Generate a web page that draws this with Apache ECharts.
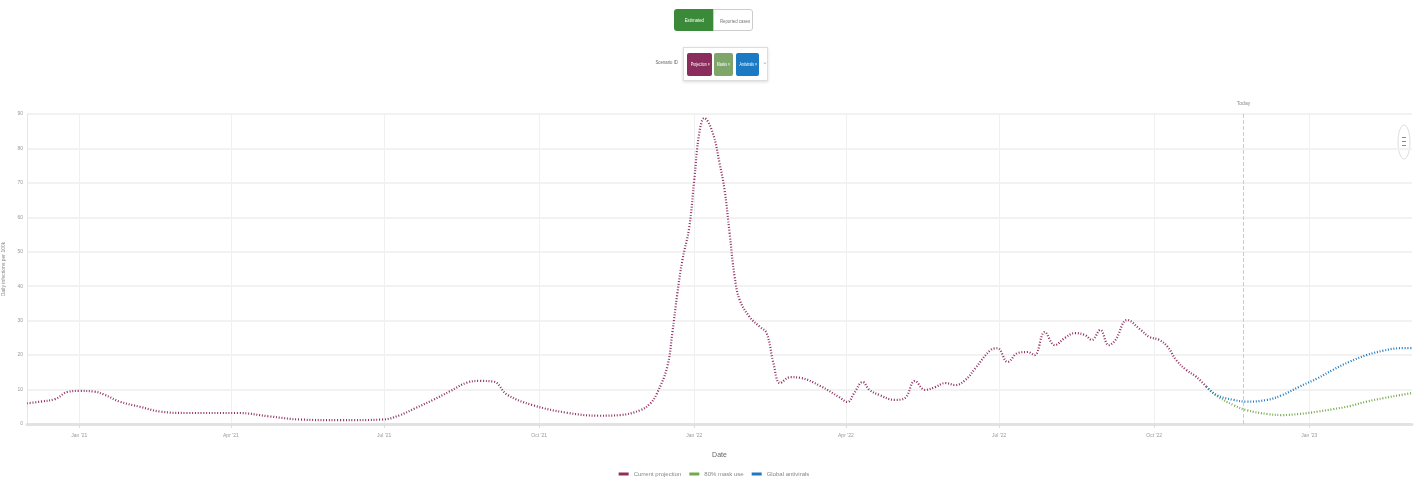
<!DOCTYPE html>
<html>
<head>
<meta charset="utf-8">
<script src="https://cdn.jsdelivr.net/npm/echarts@6/dist/echarts.min.js"></script>
<style>
  html, body { margin: 0; padding: 0; background: #fff; }
  #wrap { position: relative; width: 1428px; height: 489px; overflow: hidden; font-family: 'Liberation Sans', 'DejaVu Sans', sans-serif; }
  #chart { position: absolute; left: 0; top: 0; width: 1428px; height: 489px; }
  .btn { position: absolute; top: 9px; height: 22px; line-height: 22px; font-size: 6px; text-align: center; box-sizing: border-box; white-space: nowrap; overflow: hidden; }
  .btn span, .tag span, #scLabel span { display: inline-block; transform: scaleX(0.72); }
  #b1 { left: 674px; width: 40px; background: #3b8a3a; color: #fff; border-radius: 3px 0 0 3px; }
  #b2 { left: 713px; width: 40px; background: #fff; color: #777; border: 1px solid #ccc; border-radius: 0 3px 3px 0; }
  #scLabel { position: absolute; left: 640px; width: 42px; top: 59px; font-size: 6px; color: #666; text-align: right; white-space: nowrap; }
  #scBox { position: absolute; left: 683px; top: 47px; width: 85px; height: 34px; border: 1px solid #ddd; box-shadow: 0 1px 3px rgba(0,0,0,0.15); box-sizing: border-box; background: #fff; }
  .tag { position: absolute; top: 5px; height: 23px; line-height: 23px; font-size: 5px; color: #fff; border-radius: 2px; text-align: center; white-space: nowrap; overflow: hidden; }
  #t1 { left: 3px; width: 25px; background: #8a2c5c; }
  #t2 { left: 30px; width: 19px; background: #7ea56a; }
  #t3 { left: 52px; width: 23px; background: #1b7ac3; }
  #chev { position: absolute; left: 78px; top: 10px; font-size: 7px; color: #aaa; }
</style>
</head>
<body>
<div id="wrap">
  <div id="chart"></div>
  <div class="btn" id="b1"><span>Estimated</span></div>
  <div class="btn" id="b2"><span>Reported cases</span></div>
  <div id="scLabel"><span>Scenario ID</span></div>
  <div id="scBox">
    <div class="tag" id="t1"><span>Projection ×</span></div>
    <div class="tag" id="t2"><span>Masks ×</span></div>
    <div class="tag" id="t3"><span>Antivirals ×</span></div>
    <div id="chev">⌄</div>
  </div>
</div>
<script>
// ---- data ----
const seriesNames = ['Current projection', '80% mask use', 'Global antivirals'];
const projDates = ['2020-12-01','2020-12-09','2020-12-18','2020-12-25','2021-01-01','2021-01-10','2021-01-16','2021-01-25','2021-02-06','2021-02-18','2021-03-06','2021-04-05','2021-04-24','2021-05-12','2021-06-05','2021-06-30','2021-07-10','2021-07-19','2021-07-30','2021-08-09','2021-08-19','2021-08-27','2021-09-04','2021-09-12','2021-09-27','2021-10-17','2021-11-06','2021-11-18','2021-11-30','2021-12-06','2021-12-10','2021-12-16','2021-12-19','2021-12-22','2021-12-25','2021-12-29','2022-01-01','2022-01-04','2022-01-07','2022-01-12','2022-01-16','2022-01-19','2022-01-22','2022-01-25','2022-01-28','2022-02-03','2022-02-09','2022-02-13','2022-02-17','2022-02-21','2022-02-27','2022-03-05','2022-03-17','2022-03-28','2022-04-02','2022-04-06','2022-04-11','2022-04-15','2022-04-21','2022-04-30','2022-05-06','2022-05-12','2022-05-18','2022-05-24','2022-05-30','2022-06-05','2022-06-11','2022-06-17','2022-06-26','2022-06-30','2022-07-06','2022-07-12','2022-07-18','2022-07-22','2022-07-28','2022-08-03','2022-08-09','2022-08-15','2022-08-21','2022-08-25','2022-08-30','2022-09-04','2022-09-08','2022-09-15','2022-09-23','2022-09-28','2022-10-04','2022-10-09','2022-10-14','2022-10-20','2022-10-26','2022-11-01'];
const projValues = [6.0,6.5,7.3,9.3,9.6,9.4,8.5,6.5,5.0,3.6,3.2,3.2,2.2,1.3,1.1,1.3,2.5,4.5,7.0,9.5,12.0,12.5,12.3,8.5,5.5,3.3,2.4,2.6,4.0,6.0,9.0,16.6,26.4,38.0,47.6,57.0,70.8,84.5,88.8,84.5,75.8,68.0,55.4,42.7,36.0,31.0,28.2,26.4,17.7,11.9,13.6,13.4,11.0,7.8,6.4,9.0,12.2,9.9,8.4,7.0,7.5,12.5,9.9,10.7,11.9,11.3,12.8,16.3,21.5,22.0,18.0,20.6,20.9,20.0,26.7,22.9,25.0,26.4,25.8,24.4,27.3,22.9,24.4,30.2,27.3,25.3,24.4,22.4,18.6,15.7,13.7,10.8];
const scenDates = ['2022-11-01','2022-11-07','2022-11-17','2022-11-25','2022-12-07','2022-12-16','2022-12-26','2023-01-06','2023-01-15','2023-01-25','2023-02-04','2023-02-14','2023-02-24','2023-03-03'];
const maskValues = [10.8,8.2,5.5,4.0,2.9,2.6,2.9,3.6,4.3,5.2,6.5,7.5,8.4,9.0];
const antiviralValues = [10.8,8.4,7.0,6.5,7.0,8.4,10.8,13.3,15.7,18.1,20.0,21.3,22.0,22.0];
const tickDates = ['2021-01-01','2021-04-01','2021-07-01','2021-10-01','2022-01-01','2022-04-01','2022-07-01','2022-10-01','2023-01-01'];
const xMin = '2020-12-01';
const xMax = '2023-03-03';
const todayDate = '2022-11-23';
const yMin = 0, yMax = 90, yStep = 10;
const monthNames = ['Jan','Feb','Mar','Apr','May','Jun','Jul','Aug','Sep','Oct','Nov','Dec'];

function ts(s) { const p = s.split('-').map(Number); return new Date(p[0], p[1] - 1, p[2]).getTime(); }
const pair = (ds, vs) => ds.map((d, i) => [ts(d), vs[i]]);
const tickTs = tickDates.map(ts);
const colors = ['#8f2f60', '#72a84e', '#1f78c0'];
const font = "'Liberation Sans', 'DejaVu Sans', sans-serif";

const chart = echarts.init(document.getElementById('chart'), null, { renderer: 'canvas' });
const lineStyle = (c) => ({ color: c, width: 2.2, type: [1, 1.8] });
chart.setOption({
  animation: false,
  textStyle: { fontFamily: font },
  color: colors,
  grid: { left: 27, right: 16, top: 114, bottom: 65, containLabel: false, outerBoundsMode: 'none' },
  legend: {
    bottom: 7, left: 'center', itemWidth: 10, itemHeight: 3, itemGap: 8,
    icon: 'rect',
    textStyle: { fontSize: 6, color: '#888', fontFamily: font },
    data: seriesNames
  },
  xAxis: {
    type: 'value', min: ts(xMin), max: ts(xMax),
    name: 'Date', nameLocation: 'middle', nameGap: 28,
    nameTextStyle: { fontSize: 7, color: '#666' },
    axisLine: { lineStyle: { color: '#e2e2e2', width: 3 } },
    axisTick: { show: true, customValues: tickTs, length: 4, lineStyle: { color: '#ddd' } },
    axisLabel: {
      customValues: tickTs, fontSize: 5, color: '#999', margin: 9,
      formatter: (v) => { const d = new Date(v); return monthNames[d.getMonth()] + " '" + String(d.getFullYear()).slice(2); }
    },
    splitLine: { show: true, lineStyle: { color: '#f0f0f0', width: 1 } }
  },
  yAxis: {
    type: 'value', min: yMin, max: yMax, interval: yStep,
    name: 'Daily infections per 100k', nameLocation: 'middle', nameGap: 8,
    nameTextStyle: { fontSize: 5, color: '#888' },
    axisLine: { show: true, lineStyle: { color: '#e6e6e6', width: 1 } },
    axisTick: { show: false },
    axisLabel: { fontSize: 5, color: '#999', margin: 4 },
    splitLine: { lineStyle: { color: '#f2f2f2', width: 2 } }
  },
  graphic: [
    { type: 'ellipse', shape: { cx: 1404, cy: 142, rx: 6, ry: 17 }, style: { fill: '#fff', stroke: '#ddd', lineWidth: 1 } },
    { type: 'rect', shape: { x: 1402, y: 137, width: 4, height: 1 }, style: { fill: '#888' } },
    { type: 'rect', shape: { x: 1402, y: 141, width: 4, height: 1 }, style: { fill: '#888' } },
    { type: 'rect', shape: { x: 1402, y: 145, width: 4, height: 1 }, style: { fill: '#888' } }
  ],
  series: [
    {
      name: seriesNames[0], type: 'line', smooth: 0.4, symbol: 'none',
      data: pair(projDates, projValues), lineStyle: lineStyle(colors[0]), z: 3
    },
    {
      name: seriesNames[1], type: 'line', smooth: 0.4, symbol: 'none',
      data: pair(scenDates, maskValues), lineStyle: lineStyle(colors[1]), z: 2
    },
    {
      name: seriesNames[2], type: 'line', smooth: 0.4, symbol: 'none',
      data: pair(scenDates, antiviralValues), lineStyle: lineStyle(colors[2]), z: 4,
      markLine: {
        silent: true, symbol: 'none',
        lineStyle: { color: '#ccc', type: 'dashed', width: 1 },
        label: { show: true, position: 'end', formatter: 'Today', fontSize: 5, color: '#888', distance: 8 },
        data: [{ xAxis: ts(todayDate) }]
      }
    }
  ]
});
</script>
</body>
</html>
